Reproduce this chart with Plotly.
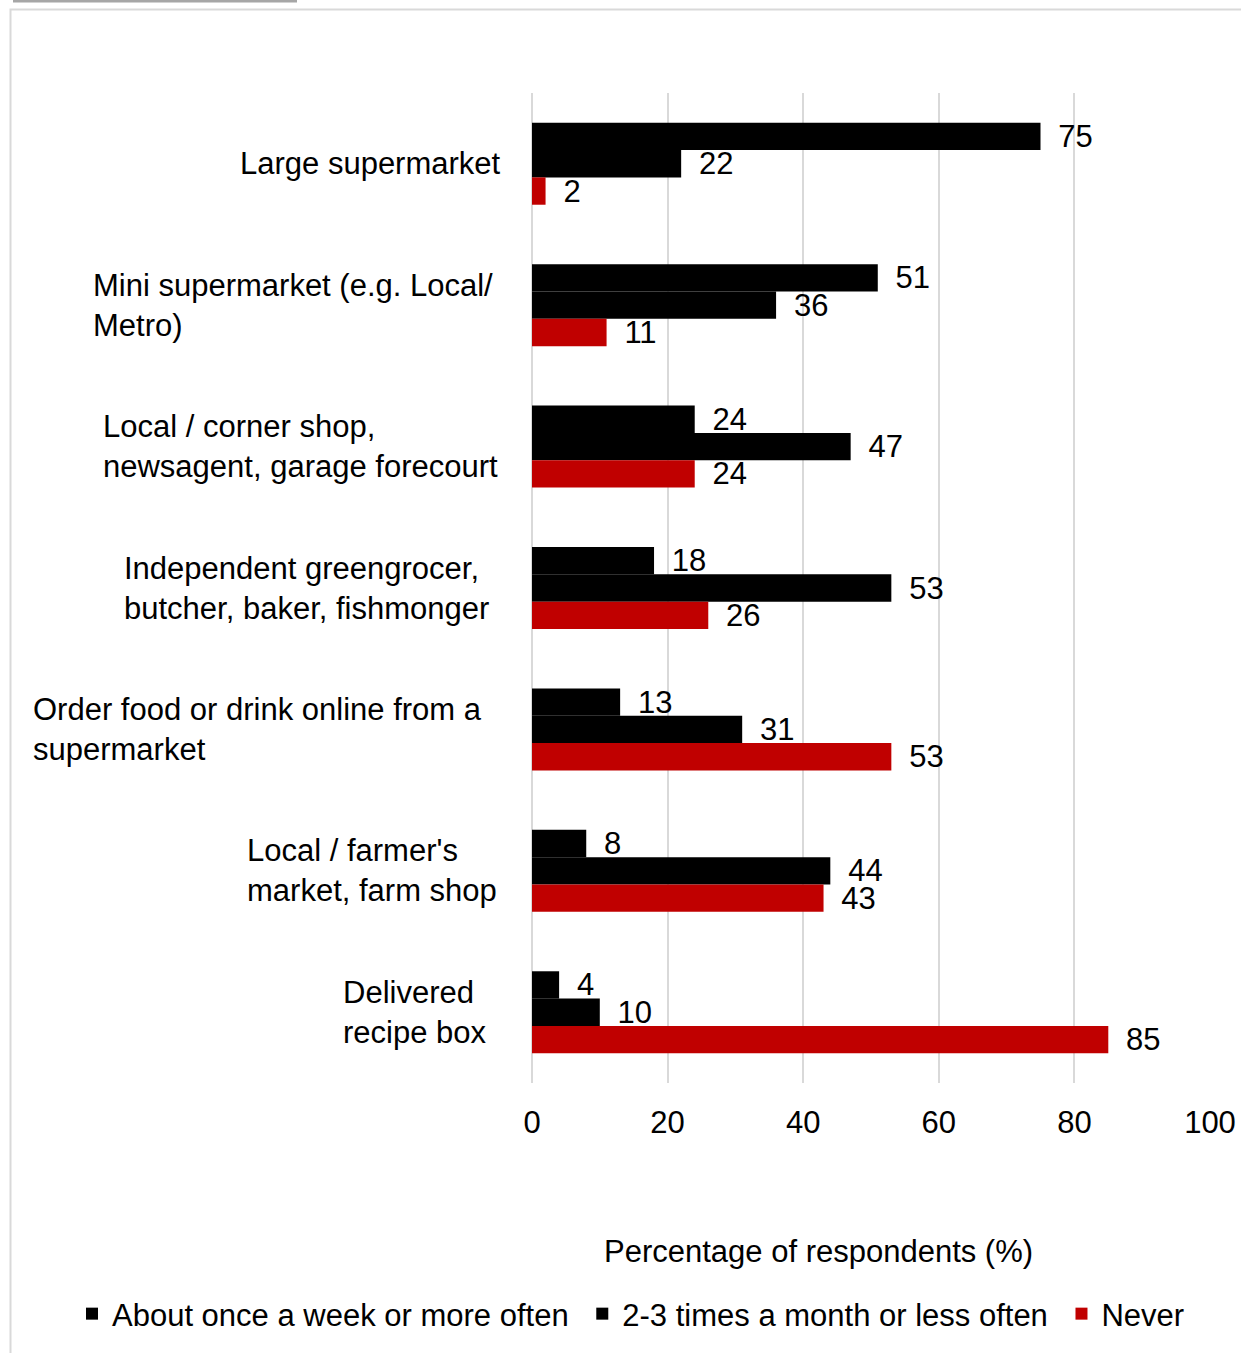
import plotly.graph_objects as go

categories = [
    "Large supermarket",
    "Mini supermarket (e.g. Local/<br>Metro)",
    "Local / corner shop,<br>newsagent, garage forecourt",
    "Independent greengrocer,<br>butcher, baker, fishmonger",
    "Order food or drink online from a<br>supermarket",
    "Local / farmer's<br>market, farm shop",
    "Delivered<br>recipe box",
]
series_names = ["About once a week or more often", "2-3 times a month or less often", "Never"]
weekly = [75, 51, 24, 18, 13, 8, 4]
monthly = [22, 36, 47, 53, 31, 44, 10]
never = [2, 11, 24, 26, 53, 43, 85]
x_ticks = [0, 20, 40, 60, 80, 100]
x_title = "Percentage of respondents (%)"

# styling: left edge (px) of each category label block
label_left_px = [238, 91, 101, 122, 31, 245, 341]
# styling: trailing padding after each legend entry
legend_pad = ["\u00a0", "\u00a0", ""]

colors = ["#000000", "#000000", "#c00000"]
FONT = "Liberation Sans, Arial, sans-serif"
FS = 31

W, H = 1241, 1353
L, R, T, B = 532, 31, 93, 270
pw = W - L - R
ph = H - T - B

def px_x(p):
    return (p - L) / pw

def px_y(p):
    return (H - B - p) / ph

fig = go.Figure()
for name, pad, vals, col in zip(series_names, legend_pad, [weekly, monthly, never], colors):
    fig.add_trace(go.Bar(
        y=categories, x=vals, name=name + pad, orientation="h",
        marker=dict(color=col, line=dict(width=0)),
        text=["\u00a0\u2009" + str(v) for v in vals],
        textposition="outside", constraintext="none", cliponaxis=False,
        textfont=dict(family=FONT, size=FS, color="#000000"),
    ))

for c, lx in zip(categories, label_left_px):
    fig.add_annotation(
        x=px_x(lx), xref="paper", y=c, yref="y", text=c, showarrow=False,
        xanchor="left", yanchor="middle", align="left",
        font=dict(family=FONT, size=FS, color="#000000"),
    )

fig.add_annotation(
    x=px_x(818), xref="paper", y=px_y(1252), yref="paper", text=x_title,
    showarrow=False, xanchor="center", yanchor="middle",
    font=dict(family=FONT, size=FS, color="#000000"),
)

# outer frame and top tab
fig.add_shape(type="rect", xref="paper", yref="paper",
              x0=px_x(10.5), x1=px_x(1300), y0=px_y(1400), y1=px_y(9.5),
              line=dict(color="#d9d9d9", width=2), fillcolor="rgba(0,0,0,0)")
fig.add_shape(type="rect", xref="paper", yref="paper",
              x0=px_x(13), x1=px_x(297), y0=px_y(2.5), y1=px_y(-1),
              line=dict(width=0), fillcolor="#a6a6a6")

fig.update_layout(
    width=W, height=H,
    margin=dict(l=L, r=R, t=T, b=B, autoexpand=False),
    paper_bgcolor="white", plot_bgcolor="white",
    barmode="group", bargap=0.42, bargroupgap=0,
    font=dict(family=FONT, size=FS, color="#000000"),
    showlegend=True,
    legend=dict(orientation="h", xref="paper", yref="paper",
                x=px_x(72), xanchor="left",
                y=px_y(1314), yanchor="middle",
                font=dict(family=FONT, size=FS, color="#000000"),
                traceorder="normal", itemwidth=30,
                bgcolor="rgba(0,0,0,0)"),
)
fig.update_xaxes(
    range=[0, 100], tickvals=x_ticks, showgrid=True, gridcolor="#d9d9d9",
    gridwidth=2, zeroline=True, zerolinecolor="#d9d9d9", zerolinewidth=2,
    showline=False, ticks="", ticklabelstandoff=18,
    tickfont=dict(family=FONT, size=FS, color="#000000"),
)
fig.update_yaxes(
    autorange="reversed", showticklabels=False, showgrid=False,
    zeroline=False, showline=False, ticks="",
)

fig.write_html("out.html")
